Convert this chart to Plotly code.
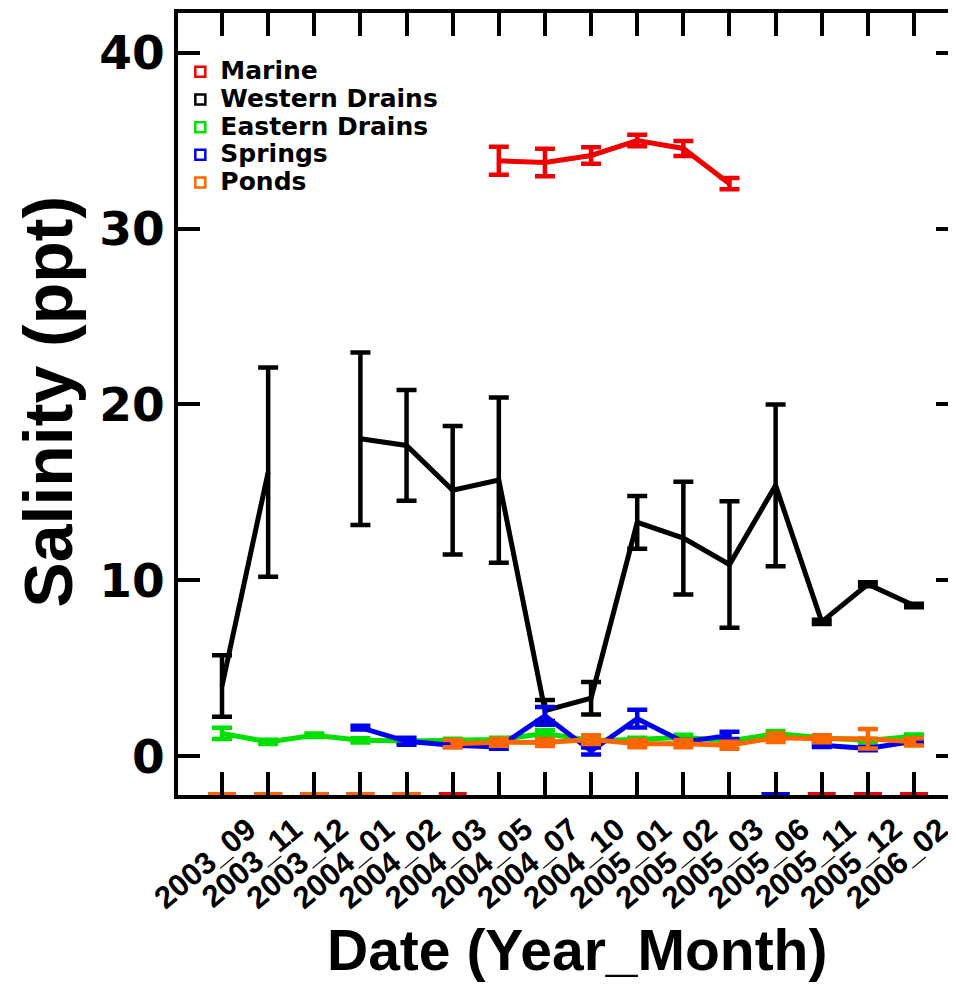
import plotly.graph_objects as go

dates = ["2003_09", "2003_11", "2003_12", "2004_01", "2004_02", "2004_03", "2004_05", "2004_07",
         "2004_10", "2005_01", "2005_02", "2005_03", "2005_06", "2005_11", "2005_12", "2006_02"]

marine = [None, None, None, None, None, None, 33.85, 33.75, 34.15, 35.0, 34.55, 32.55, None, None, None, None]
marine_err = [0, 0, 0, 0, 0, 0, 0.8, 0.78, 0.47, 0.33, 0.43, 0.32, 0, 0, 0, 0]

western = [4.0, 16.15, None, 18.05, 17.67, 15.12, 15.7, 2.6, 3.3, 13.3, 12.4, 10.9, 15.4, 7.64, 9.78, 8.57]
western_err = [1.75, 5.95, 0, 4.9, 3.15, 3.65, 4.7, 0.6, 0.93, 1.5, 3.2, 3.6, 4.6, 0.12, 0.12, 0.1]

eastern = [1.3, 0.82, 1.19, 0.91, 0.87, 0.9, 0.95, 1.29, 0.9, 0.96, 1.08, 0.87, 1.29, 1.06, 0.9, 1.14]
eastern_err = [0.32, 0.12, 0.1, 0.12, 0.1, 0.1, 0.1, 0.2, 0.1, 0.1, 0.15, 0.1, 0.15, 0.1, 0.1, 0.1]

springs = [None, None, None, 1.63, 0.85, 0.63, 0.53, 2.3, 0.3, 2.14, 0.82, 1.19, None, 0.63, 0.44, 0.85]
springs_err = [0, 0, 0, 0.1, 0.2, 0.1, 0.1, 0.5, 0.2, 0.5, 0.1, 0.2, 0, 0.1, 0.1, 0.1]

ponds = [None, None, None, None, None, 0.72, 0.8, 0.78, 0.95, 0.72, 0.72, 0.63, 1.06, 1.0, 1.0, 0.82]
ponds_err = [0, 0, 0, 0, 0, 0.2, 0.2, 0.2, 0.25, 0.2, 0.2, 0.2, 0.25, 0.2, 0.55, 0.2]

series = [
    ("Marine", marine, marine_err, "#f00000"),
    ("Western Drains", western, western_err, "#000000"),
    ("Eastern Drains", eastern, eastern_err, "#00e000"),
    ("Springs", springs, springs_err, "#0000f0"),
    ("Ponds", ponds, ponds_err, "#ff6600"),
]

y_ticks = [0, 10, 20, 30, 40]
Y_RANGE = [-2.2, 42.25]
X_RANGE = [-0.954, 15.91]

fig = go.Figure()

for name, vals, errs, col in series:
    fig.add_trace(go.Scatter(
        x=dates, y=vals, mode="lines", name=name, showlegend=False,
        line=dict(color=col, width=5),
        error_y=dict(type="data", array=errs, visible=True, color=col, thickness=4.5, width=10),
    ))

# missing values drawn on the bottom axis
for name, vals, errs, col in series:
    mx = [d for d, v in zip(dates, vals) if v is None]
    fig.add_trace(go.Scatter(
        x=mx, y=[Y_RANGE[0]] * len(mx), mode="markers", showlegend=False, cliponaxis=False,
        marker=dict(symbol="line-ew", size=20, color=col, line=dict(color=col, width=6)),
        hoverinfo="skip",
    ))

# legend entries
for name, vals, errs, col in series:
    fig.add_trace(go.Scatter(
        x=[None], y=[None], mode="markers",
        name='<span style="font-size:25px">' + name + "</span>",
        marker=dict(symbol="square-open", size=10, color=col, line=dict(color=col, width=2.5)),
    ))

# helper trace for the right-hand tick axis
fig.add_trace(go.Scatter(x=[dates[0]], y=[None], yaxis="y2", showlegend=False, hoverinfo="skip", mode="markers"))

bold = "Liberation Sans"
fig.update_layout(
    width=948, height=979,
    margin=dict(l=170, r=0, t=5, b=192),
    plot_bgcolor="white", paper_bgcolor="white",
    xaxis=dict(
        type="category", categoryorder="array", categoryarray=dates, range=X_RANGE,
        showline=True, linewidth=4, linecolor="black", mirror="ticks",
        ticks="inside", ticklen=23, tickwidth=4, tickcolor="black",
        tickangle=-40, ticklabelshift=26,
        tickfont=dict(family=bold, size=31, color="black", weight="bold"),
        showgrid=False, zeroline=False,
    ),
    yaxis=dict(
        range=Y_RANGE, tickvals=y_ticks, ticktext=[str(t) for t in y_ticks],
        showline=True, linewidth=4, linecolor="black",
        ticks="inside", ticklen=22, tickwidth=4, tickcolor="black",
        tickfont=dict(family="DejaVu Sans", size=47, color="black", weight="bold"),
        showgrid=False, zeroline=False,
    ),
    yaxis2=dict(
        overlaying="y", side="right", range=Y_RANGE, tickvals=y_ticks,
        showline=False, showticklabels=False, ticks="inside", ticklen=20, tickwidth=4,
        tickcolor="black", showgrid=False, zeroline=False,
    ),
    legend=dict(
        x=0.003, y=0.949, xanchor="left", yanchor="top",
        font=dict(family="DejaVu Sans", size=19, color="black", weight="bold"),
        bgcolor="rgba(0,0,0,0)", itemwidth=30, tracegroupgap=0,
    ),
    annotations=[
        dict(text="Salinity (ppt)", xref="paper", yref="paper", x=-0.1675, y=0.5026,
             xanchor="center", yanchor="middle", textangle=-90, showarrow=False,
             font=dict(family=bold, size=68, color="black", weight="bold")),
        dict(text="Date (Year_Month)", xref="paper", yref="paper", x=0.513, y=-0.198,
             xanchor="center", yanchor="middle", showarrow=False,
             font=dict(family=bold, size=57, color="black", weight="bold")),
    ],
)

fig.write_html("out.html")
